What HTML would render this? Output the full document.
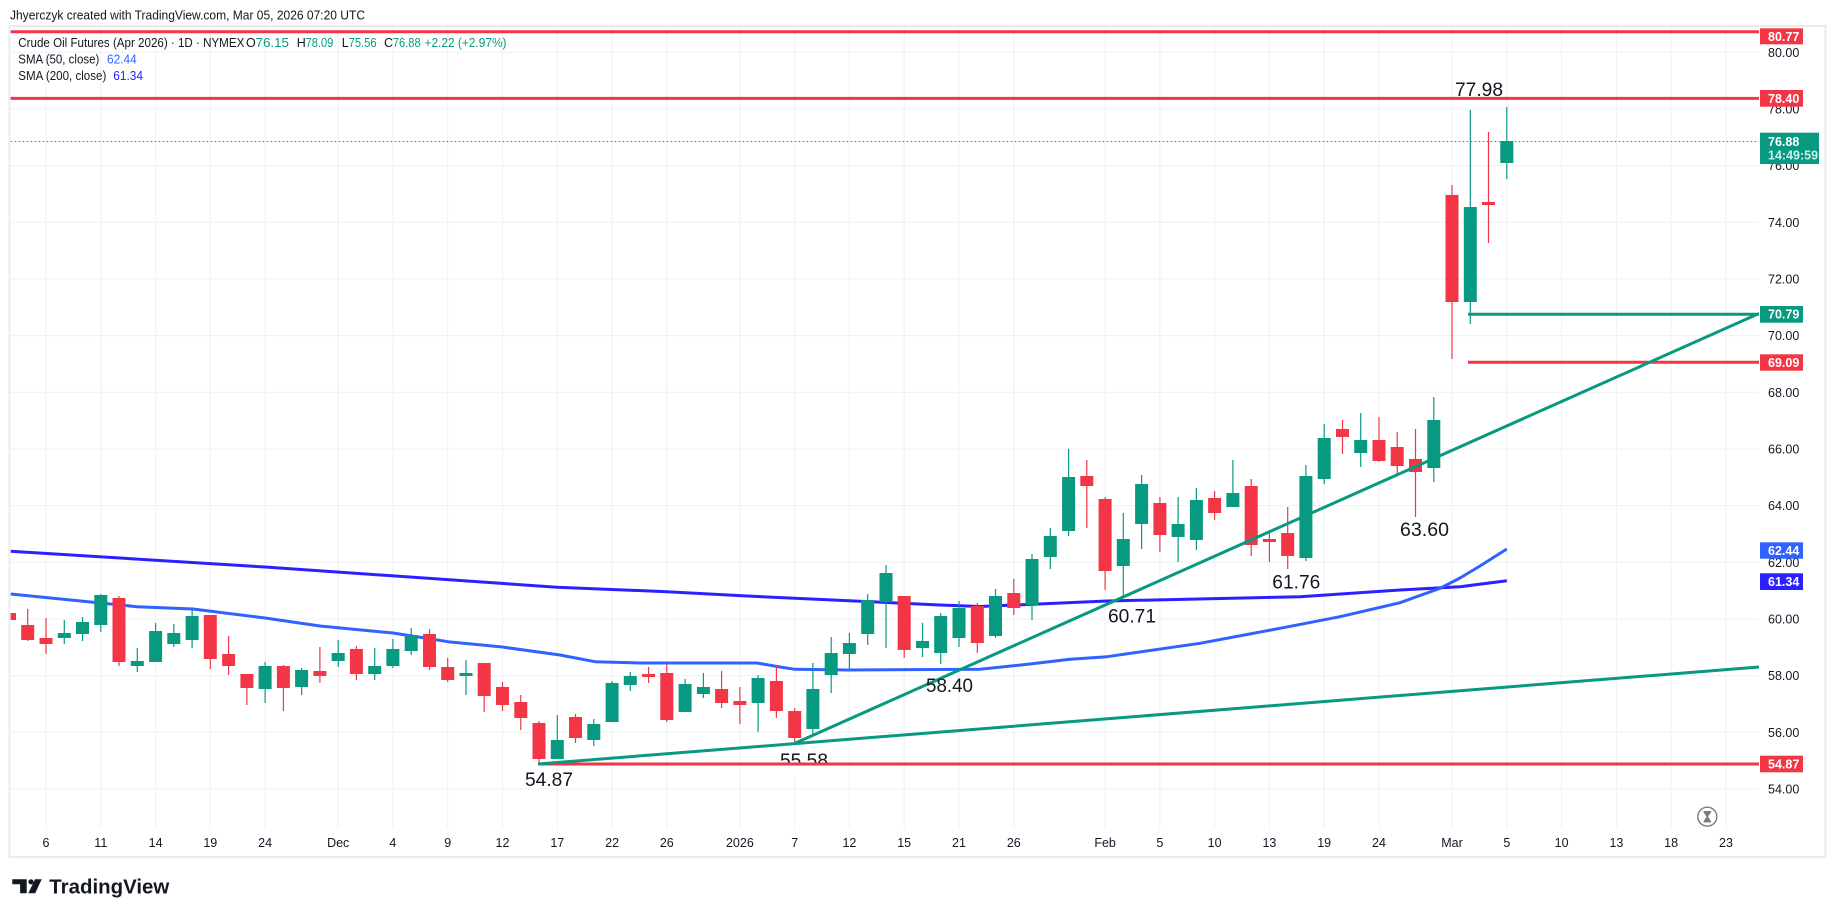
<!DOCTYPE html>
<html><head><meta charset="utf-8"><style>
html,body{margin:0;padding:0;background:#fff;}
svg{display:block;}
text{font-family:"Liberation Sans",Arial,sans-serif;}
</style></head><body>
<svg width="1835" height="917" viewBox="0 0 1835 917" xmlns="http://www.w3.org/2000/svg">
<rect width="1835" height="917" fill="#fff"/>
<text x="10" y="19.5" font-size="13" fill="#131722" textLength="355" lengthAdjust="spacingAndGlyphs">Jhyerczyk created with TradingView.com, Mar 05, 2026 07:20 UTC</text>
<rect x="9.5" y="26" width="1816" height="831" fill="#fff" stroke="#ebebeb" stroke-width="2"/>
<defs><clipPath id="c"><rect x="10.7" y="27" width="1748.3" height="801"/></clipPath></defs>
<g stroke="#eef0f3" stroke-width="1">
<path d="M10.7 52.3H1759M10.7 109H1759M10.7 165.6H1759M10.7 222.3H1759M10.7 279H1759M10.7 335.6H1759M10.7 392.3H1759M10.7 449H1759M10.7 505.6H1759M10.7 562.3H1759M10.7 619H1759M10.7 675.6H1759M10.7 732.3H1759M10.7 789H1759"/>
<path d="M46 27V828M100.8 27V828M155.6 27V828M210.3 27V828M265.1 27V828M338.2 27V828M392.9 27V828M447.7 27V828M502.5 27V828M557.3 27V828M612.1 27V828M666.8 27V828M739.9 27V828M794.7 27V828M849.4 27V828M904.2 27V828M959 27V828M1013.8 27V828M1105.1 27V828M1159.9 27V828M1214.6 27V828M1269.4 27V828M1324.2 27V828M1379 27V828M1452 27V828M1506.8 27V828M1561.6 27V828M1616.4 27V828M1671.1 27V828M1726 27V828"/>
</g>
<g clip-path="url(#c)">
<path fill="none" stroke="#2b20ff" stroke-width="3" stroke-linejoin="round" d="M10.7 551.3L265 567L500 583.3L557 587.3L667 591.7L747 596L940 605L980 606.5L1107 601L1300 596.7L1400 590L1460 586.7L1506.8 580.7"/>
<path fill="none" stroke="#2f62ff" stroke-width="3" stroke-linejoin="round" d="M10.7 594L137 606.7L193 609L265 618L320 626L393 633L448 641.7L500 646.7L560 655L595 661.7L640 663L757 663L780 667L795 669.3L847 670L980 669.3L1030 664L1070 659.3L1107 656.7L1200 643.3L1280 628.3L1340 616.7L1400 602.7L1440 588.3L1460 578L1480 566L1506.8 549"/>
<path fill="none" stroke="#089981" stroke-width="1.2" d="M64.3 620V644M82.5 617V641M100.8 594V632M137.3 648V672M155.6 623V662M173.8 624V647M192.1 610V648M265.1 662V703M301.6 668V695M338.2 640V667M374.7 648V680M392.9 639V668M411.2 628V655M466 660V695M557.3 715V759M593.8 719V746M612.1 681V722M630.3 672V691M685.1 679V712M703.4 673V698M758.1 675V732M812.9 663V736M831.2 637V693M849.4 633V670M867.7 594V645M886 565V648M922.5 623V657M940.7 613V664M959 601V647M995.5 589V638M1032 554V620M1050.3 528V569M1068.6 449V536M1123.3 513V597M1141.6 475V549M1178.1 497V562M1196.4 488V550M1232.9 460V507M1305.9 465V561M1324.2 424V484M1360.7 413V467M1433.8 397V482M1470.3 110V324M1506.8 107V179"/>
<path fill="#089981" d="M57.8 633h13v5h-13zM76 622h13v12h-13zM94.3 595h13v30h-13zM130.8 661h13v5h-13zM149.1 631h13v31h-13zM167.3 633h13v11h-13zM185.6 616h13v24h-13zM258.6 666h13v23h-13zM295.1 670h13v17h-13zM331.7 653h13v8h-13zM368.2 666h13v8h-13zM386.4 649h13v17h-13zM404.7 635h13v16h-13zM459.5 673h13v3h-13zM550.8 740h13v19h-13zM587.3 724h13v16h-13zM605.6 683h13v39h-13zM623.8 676h13v9h-13zM678.6 684h13v28h-13zM696.9 687h13v7h-13zM751.6 678h13v25h-13zM806.4 689h13v40h-13zM824.7 653h13v22h-13zM842.9 643h13v11h-13zM861.2 600h13v34h-13zM879.5 573h13v29h-13zM916 641h13v7h-13zM934.2 616h13v37h-13zM952.5 608h13v30h-13zM989 596h13v40h-13zM1025.5 559h13v46h-13zM1043.8 536h13v21h-13zM1062.1 477h13v54h-13zM1116.8 539h13v27h-13zM1135.1 484h13v40h-13zM1171.6 524h13v13h-13zM1189.9 500h13v40h-13zM1226.4 493h13v14h-13zM1299.4 476h13v82h-13zM1317.7 438h13v41h-13zM1354.2 440h13v13h-13zM1427.3 420h13v48h-13zM1463.8 207h13v95h-13zM1500.3 141h13v22h-13z"/>
<path fill="none" stroke="#f23645" stroke-width="1.2" d="M9.5 611V622M27.7 609V641M46 618V654M119 596V666M210.3 615V669M228.6 636V675M246.9 674V705M283.4 665V711M319.9 647V683M356.4 646V680M429.5 629V670M447.7 658V682M484.2 663V712M502.5 682V711M520.8 695V730M539 721V764M575.5 714V743M648.6 667V683M666.8 663V722M721.6 671V708M739.9 687V724M776.4 665V718M794.7 708V744M904.2 596V658M977.3 603V653M1013.8 579V615M1086.8 460V528M1105.1 497V590M1159.9 497V552M1214.6 491V520M1251.2 479V556M1269.4 531V562M1287.7 507V569M1342.5 420V454M1379 417V462M1397.2 432V474M1415.5 429V517M1452 185V359M1488.5 132V243"/>
<path fill="#f23645" d="M3 613h13v7h-13zM21.2 625h13v15h-13zM39.5 638h13v6h-13zM112.5 598h13v64h-13zM203.8 615h13v44h-13zM222.1 654h13v12h-13zM240.4 674h13v14h-13zM276.9 666h13v22h-13zM313.4 671h13v5h-13zM349.9 649h13v25h-13zM423 634h13v33h-13zM441.2 667h13v13h-13zM477.7 663h13v33h-13zM496 687h13v18h-13zM514.3 702h13v16h-13zM532.5 723h13v36h-13zM569 717h13v21h-13zM642.1 674h13v3h-13zM660.3 673h13v47h-13zM715.1 689h13v14h-13zM733.4 701h13v4h-13zM769.9 681h13v30h-13zM788.2 711h13v27h-13zM897.7 596h13v54h-13zM970.8 606h13v37h-13zM1007.3 593h13v15h-13zM1080.3 476h13v10h-13zM1098.6 499h13v72h-13zM1153.4 503h13v32h-13zM1208.1 498h13v15h-13zM1244.7 486h13v59h-13zM1262.9 539h13v3h-13zM1281.2 533h13v23h-13zM1336 429h13v8h-13zM1372.5 440h13v21h-13zM1390.7 447h13v19h-13zM1409 459h13v13h-13zM1445.5 195h13v107h-13zM1482 202h13v3h-13z"/>
<path d="M10.7 141.5H1759" stroke="#089981" stroke-width="1" stroke-dasharray="1.5 2.5"/>
<text x="780" y="767" font-size="19.5" fill="#131722" textLength="48" lengthAdjust="spacingAndGlyphs">55.58</text>
<rect x="776" y="765.5" width="56" height="10" fill="#fff"/>
<g stroke-width="3" fill="none" stroke-linecap="butt">
<path d="M10 31.7H1759M10 98.4H1759M1468 362.3H1759M538 764H1759" stroke="#f23645"/>
<path d="M1468 314.3H1759M538 764L1759 667M795 743.3L1759 313.5" stroke="#089981"/>
</g>
<g font-size="19.5" fill="#131722">
<text x="1455" y="96" textLength="48" lengthAdjust="spacingAndGlyphs">77.98</text>
<text x="525" y="786" textLength="48" lengthAdjust="spacingAndGlyphs">54.87</text>
<text x="926" y="692" textLength="47" lengthAdjust="spacingAndGlyphs">58.40</text>
<text x="1108" y="622.7" textLength="48" lengthAdjust="spacingAndGlyphs">60.71</text>
<text x="1272.3" y="588.7" textLength="48" lengthAdjust="spacingAndGlyphs">61.76</text>
<text x="1400" y="536" textLength="49" lengthAdjust="spacingAndGlyphs">63.60</text>
</g>
</g>
<g font-size="12.5" fill="#131722">
<text x="18.3" y="47" textLength="226" lengthAdjust="spacingAndGlyphs">Crude Oil Futures (Apr 2026) · 1D · NYMEX</text>
<text x="246" y="47">O</text><text x="255.5" y="47" fill="#089981" textLength="33.5" lengthAdjust="spacingAndGlyphs">76.15</text>
<text x="296.7" y="47">H</text><text x="305.6" y="47" fill="#089981" textLength="27.7" lengthAdjust="spacingAndGlyphs">78.09</text>
<text x="341.7" y="47">L</text><text x="348.6" y="47" fill="#089981" textLength="28" lengthAdjust="spacingAndGlyphs">75.56</text>
<text x="384" y="47">C</text><text x="392.8" y="47" fill="#089981" textLength="27.9" lengthAdjust="spacingAndGlyphs">76.88</text>
<text x="424.5" y="47" fill="#089981" textLength="82" lengthAdjust="spacingAndGlyphs">+2.22 (+2.97%)</text>
<text x="18.3" y="63.5" textLength="81" lengthAdjust="spacingAndGlyphs">SMA (50, close)</text>
<text x="107" y="63.5" fill="#2f62ff" textLength="29.7" lengthAdjust="spacingAndGlyphs">62.44</text>
<text x="18.3" y="80" textLength="88" lengthAdjust="spacingAndGlyphs">SMA (200, close)</text>
<text x="113.3" y="80" fill="#2b20ff" textLength="29.7" lengthAdjust="spacingAndGlyphs">61.34</text>
</g>
<g font-size="12.5" fill="#131722">
<text x="1768" y="56.8">80.00</text><text x="1768" y="113.5">78.00</text><text x="1768" y="170.1">76.00</text><text x="1768" y="226.8">74.00</text><text x="1768" y="283.5">72.00</text><text x="1768" y="340.1">70.00</text><text x="1768" y="396.8">68.00</text><text x="1768" y="453.5">66.00</text><text x="1768" y="510.1">64.00</text><text x="1768" y="566.8">62.00</text><text x="1768" y="623.5">60.00</text><text x="1768" y="680.1">58.00</text><text x="1768" y="736.8">56.00</text><text x="1768" y="793.5">54.00</text>
</g>
<g font-size="12.5" font-weight="bold" fill="#fff">
<rect x="1760" y="28.3" width="43" height="16" fill="#f23645"/><text x="1768" y="40.8">80.77</text>
<rect x="1760" y="90" width="43" height="16.7" fill="#f23645"/><text x="1768" y="102.8">78.40</text>
<rect x="1760" y="132.7" width="59" height="31.3" fill="#089981"/><text x="1768" y="146">76.88</text><text x="1768" y="159.6" fill="#cdeee8" font-weight="bold">14:49:59</text>
<rect x="1760" y="306" width="43" height="16.7" fill="#089981"/><text x="1768" y="318.7">70.79</text>
<rect x="1760" y="354.3" width="43" height="16.4" fill="#f23645"/><text x="1768" y="366.9">69.09</text>
<rect x="1760" y="542.3" width="43" height="16.4" fill="#2f62ff"/><text x="1768" y="554.9">62.44</text>
<rect x="1760" y="573.3" width="43" height="16.7" fill="#2b20ff"/><text x="1768" y="586">61.34</text>
<rect x="1760" y="755.7" width="43" height="16.6" fill="#f23645"/><text x="1768" y="768.4">54.87</text>
</g>
<g font-size="12.5" fill="#131722" text-anchor="middle">
<text x="46" y="847">6</text><text x="100.8" y="847">11</text><text x="155.6" y="847">14</text><text x="210.3" y="847">19</text><text x="265.1" y="847">24</text><text x="338.2" y="847">Dec</text><text x="392.9" y="847">4</text><text x="447.7" y="847">9</text><text x="502.5" y="847">12</text><text x="557.3" y="847">17</text><text x="612.1" y="847">22</text><text x="666.8" y="847">26</text><text x="739.9" y="847">2026</text><text x="794.7" y="847">7</text><text x="849.4" y="847">12</text><text x="904.2" y="847">15</text><text x="959" y="847">21</text><text x="1013.8" y="847">26</text><text x="1105.1" y="847">Feb</text><text x="1159.9" y="847">5</text><text x="1214.6" y="847">10</text><text x="1269.4" y="847">13</text><text x="1324.2" y="847">19</text><text x="1379" y="847">24</text><text x="1452" y="847">Mar</text><text x="1506.8" y="847">5</text><text x="1561.6" y="847">10</text><text x="1616.4" y="847">13</text><text x="1671.1" y="847">18</text><text x="1726" y="847">23</text>
</g>
<circle cx="1707.3" cy="816.7" r="9.5" fill="#fff" stroke="#7a7a7a" stroke-width="1.4"/>
<path d="M1703.5 811h7.6v1.2l-2.8 3.9v1.2l2.8 3.9v1.2h-7.6v-1.2l2.8-3.9v-1.2l-2.8-3.9z" fill="#7a7a7a"/>
<g fill="#131722">
<path d="M12.3 879.3h14.4v14h-6.6v-9h-7.8z"/>
<circle cx="31" cy="881.8" r="2.6"/>
<path d="M35 879.3h6.7l-6.5 14h-6.9z"/>
<text x="49.3" y="893.5" font-size="20" font-weight="bold" textLength="120" lengthAdjust="spacingAndGlyphs">TradingView</text>
</g>
</svg>
</body></html>
